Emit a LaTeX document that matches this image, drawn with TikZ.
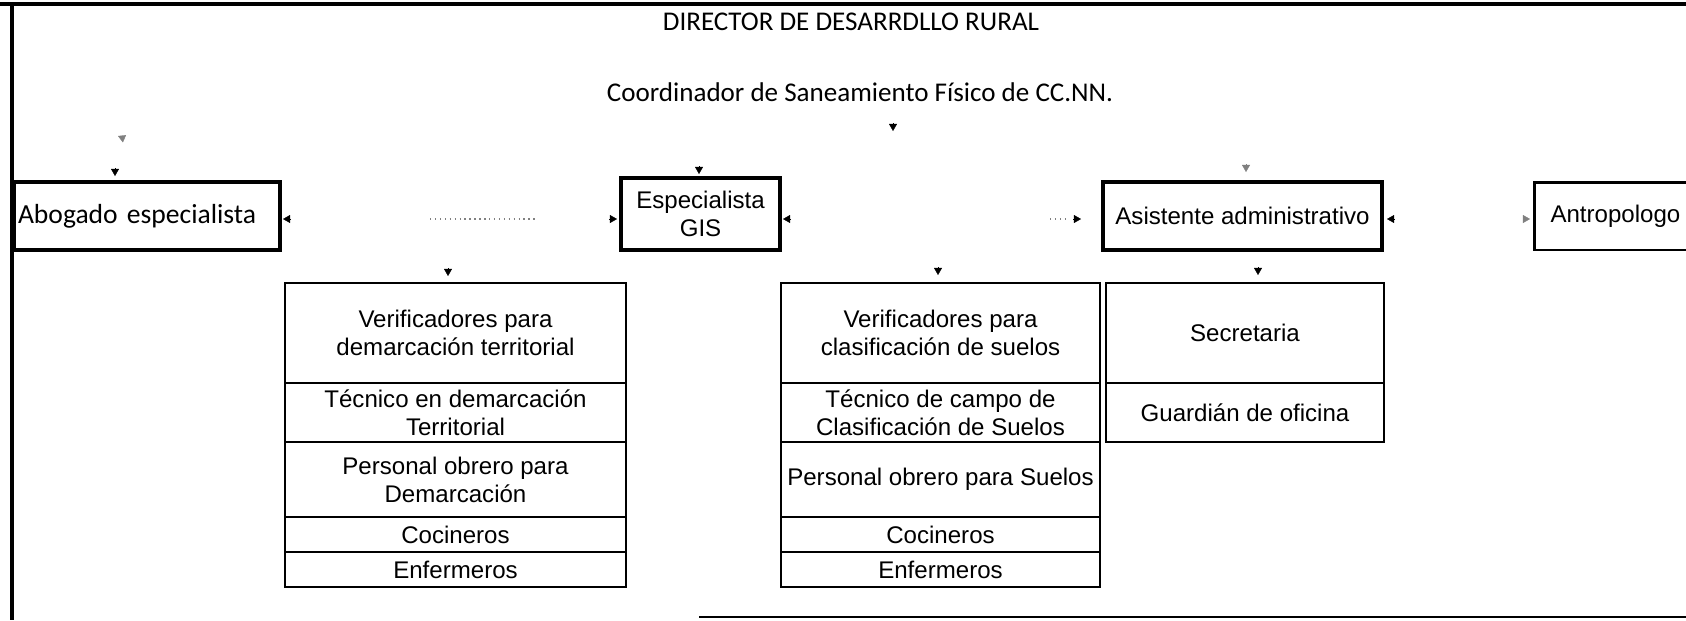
\documentclass[tikz,border=0pt]{standalone}
\usepackage{fontspec}
\setmainfont{Liberation Sans}
\newfontfamily\calibfont{Carlito}
\usetikzlibrary{arrows.meta}

\tikzset{
  cell/.style={draw, line width=1.1pt, inner sep=0pt, align=center,
    font=\fontsize{13.7}{15.9}\selectfont},
  headbox/.style={draw, line width=2.3pt, inner sep=0pt, align=center,
    font=\fontsize{13.7}{15.9}\selectfont},
  titletext/.style={font=\calibfont\fontsize{15.4}{18}\selectfont, inner sep=0pt},
  tipmark/.style={-{Triangle[length=4pt,width=4.5pt]}, line width=0.2pt},
  dotline/.style={gray, dotted, line width=0.8pt}
}

\begin{document}
\begin{tikzpicture}[x=0.02cm,y=-0.02cm]
        \useasboundingbox (0,0) rectangle (1686,620);
        \clip (0,0) rectangle (1686,620);
        %% frame
        \draw[line width=2.3pt] (0,4) -- (1686,4);
        \draw[line width=2.3pt] (12,4) -- (12,620);
        \draw[line width=1.1pt] (699,617) -- (1686,617);
        %% titles
        \node[titletext] (dir) at (851,22) {DIRECTOR DE DESARRDLLO RURAL};
        \node[titletext] (coord) at (860,92) {Coordinador de Saneamiento Físico de CC.NN.};
        %% second level
        \node[headbox, anchor=west, text width=5.16cm, inner xsep=0.08cm, align=left,
              minimum height=1.36cm, font=\calibfont\fontsize{15.7}{18}\selectfont]
              (abog) at (12,216) {\mbox{Abogado especialista}};
        \node[headbox, minimum width=3.18cm, minimum height=1.44cm] (gis) at (700.5,214) {Especialista\\GIS};
        \node[headbox, minimum width=5.58cm, minimum height=1.36cm] (asis) at (1242.5,216) {Asistente administrativo};
        \node[headbox, line width=1.7pt, anchor=west, text width=3cm, inner xsep=0.32cm, align=left,
              minimum height=1.36cm] (antr) at (1533,216) {Antropologo};
        %% stack under demarcacion
        \foreach \n/\yc/\h/\txt in {dver/333/2/{Verificadores para\\demarcación territorial},
                                    dtec/412.5/1.18/{Técnico en demarcación\\Territorial},
                                    dobr/479.5/1.5/{Personal obrero para\\Demarcación},
                                    dcoc/534.5/0.7/{Cocineros},
                                    denf/569.5/0.7/{Enfermeros}}
            \node[cell, minimum width=6.82cm, minimum height=\h cm] (\n) at (455.5,\yc) {\txt};
        %% stack under suelos
        \foreach \n/\yc/\h/\txt in {sver/333/2/{Verificadores para\\clasificación de suelos},
                                    stec/412.5/1.18/{Técnico de campo de\\Clasificación de Suelos},
                                    sobr/479.5/1.5/{Personal obrero para Suelos},
                                    scoc/534.5/0.7/{Cocineros},
                                    senf/569.5/0.7/{Enfermeros}}
            \node[cell, minimum width=6.38cm, minimum height=\h cm] (\n) at (940.5,\yc) {\txt};
        %% stack under asistente
        \node[cell, minimum width=5.56cm, minimum height=2cm] (secr) at (1245,333) {Secretaria};
        \node[cell, minimum width=5.56cm, minimum height=1.18cm] (guar) at (1245,412.5) {Guardián de oficina};
        %% arrow tips left over from the connectors
        \coordinate (tcoord) at (893,131);
        \coordinate (tabog) at (115,176);
        \coordinate (tgis) at (699,174);
        \coordinate (tasis) at (1246,172);
        \coordinate (tdver) at (448,276);
        \coordinate (tsver) at (938,275);
        \coordinate (tsecr) at (1258,275);
        \foreach \t in {tcoord,tabog,tgis,tdver,tsver,tsecr}
            \draw[tipmark] (\t) ++(0,-8) -- (\t);
        \draw[tipmark, gray] (tasis) ++(0,-8) -- (tasis);
        \coordinate (odd) at (118,136);
        \draw[tipmark, gray] (odd) ++(7,3) -- (odd);
        %% sideways tips
        \coordinate (labog) at (283,219);
        \coordinate (rgis) at (617,219);
        \coordinate (lgis) at (783,219);
        \coordinate (rasis) at (1081,219);
        \coordinate (lasis) at (1387,219);
        \coordinate (rantr) at (1530,219);
        \foreach \t in {labog,lgis,lasis}
            \draw[tipmark] (\t) ++(8,0) -- (\t);
        \foreach \t in {rgis,rasis}
            \draw[tipmark] (\t) ++(-8,0) -- (\t);
        \draw[tipmark, gray] (rantr) ++(-7,0) -- (rantr);
        %% what is left of the dotted lines
        \draw[dotline] (430,219) -- (535,219);
        \draw[dotline] (1050,219) -- (1066,219);
\end{tikzpicture}
\end{document}
